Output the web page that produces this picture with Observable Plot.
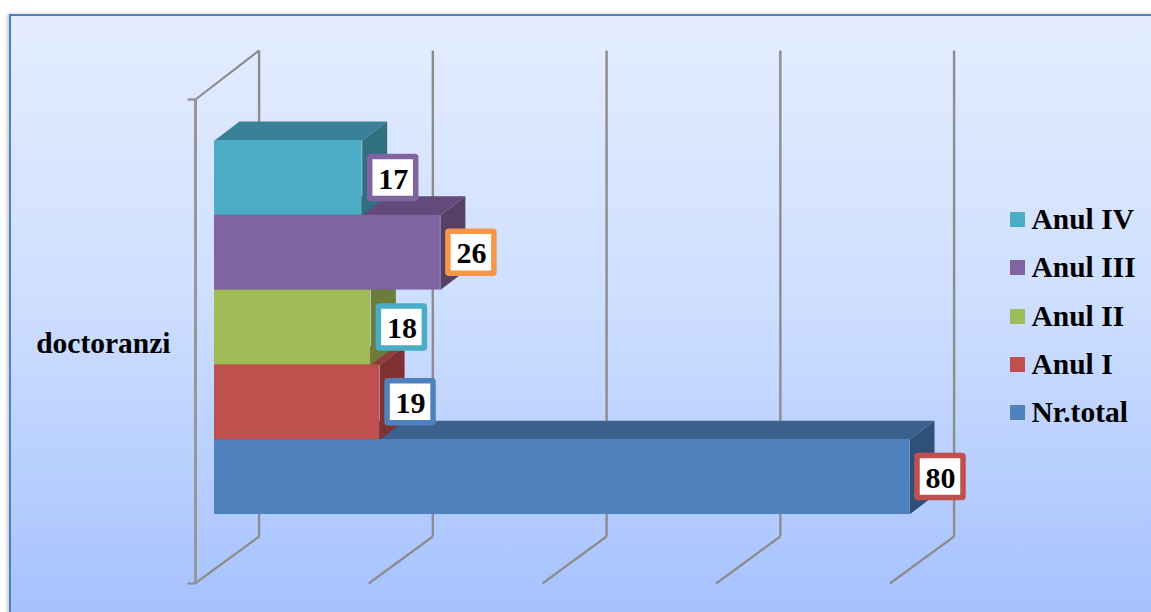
<!DOCTYPE html>
<html>
<head>
<meta charset="utf-8">
<script src="https://cdn.jsdelivr.net/npm/d3@7"></script>
<script src="https://cdn.jsdelivr.net/npm/@observablehq/plot@0.6"></script>
<style>
  html, body { margin: 0; padding: 0; background: #fff; overflow: hidden; width: 1151px; height: 612px; }
  #frame { position: absolute; left: 9px; top: 14px; width: 1160px; height: 620px; box-sizing: border-box;
    border: 2px solid #4f81bd; box-shadow: -2px 0 3px rgba(0,0,0,.2);
    background: linear-gradient(180deg, #e4edff 0%, #cfdfff 45%, #a3c0fe 100%); }
  #chart { position: absolute; left: 0; top: 0; }
  #legend { position: absolute; left: 1010px; top: 195.5px; font: bold 29.5px "Liberation Serif", serif; color: #000; }
  #legend div { display: flex; align-items: center; height: 48.25px; white-space: nowrap; }
  #legend i { display: block; width: 15px; height: 15px; margin-right: 6.5px; }
</style>
</head>
<body>
<div id="frame"></div>
<div id="chart"></div>
<div id="legend"></div>
<script>
// Data, top bar first (legend order)
const seriesNames = ["Anul IV", "Anul III", "Anul II", "Anul I", "Nr.total"];
const seriesValues = [17, 26, 18, 19, 80];
const slots = [4, 3, 2, 1, 0];
const frontColors = ["#4aacc5", "#8064a2", "#9fbc59", "#c0504d", "#4f81bd"];
const topColors = ["#398197", "#644a7a", "#7c9344", "#913c39", "#3c618e"];
const sideColors = ["#31707f", "#574068", "#6b7c3b", "#803232", "#2f5078"];
const labelBorders = ["#8064a2", "#f79646", "#4bacc6", "#4f81bd", "#c0504d"];
const categoryName = ["doctoranzi"];
const gridValues = [0, 20, 40, 60, 80];

// Scale extents and the fake-3D offsets, in data units
const xUnit = 695 / 80, yUnit = 74.8;
const barDepthX = 25 / xUnit, barDepthY = 19 / yUnit;
const wallFrontX = -19 / xUnit, wallBackX = 44.6 / xUnit, floorFrontX = -19.6 / xUnit;
const wallFrontTop = 415 / yUnit, wallFrontBottom = -69 / yUnit;
const wallBackTop = 464 / yUnit, wallBackBottom = -22 / yUnit;
const labelOffset = 31 / xUnit, labelHalfW = 23 / xUnit, labelHalfH = 21 / yUnit;
const tickLen = 8 / xUnit;

const bars = seriesNames.map((name, i) => ({name, value: seriesValues[i], slot: slots[i], i}));

const gridColor = "#8c8c8c";
const marks = [];

// Back-wall gridlines and their floor lines
marks.push(Plot.link(gridValues, {
  x1: d => d + wallBackX, x2: d => d + wallBackX,
  y1: wallBackBottom, y2: wallBackTop, stroke: gridColor, strokeWidth: 2.4
}));
marks.push(Plot.link(gridValues, {
  x1: d => d + wallBackX, x2: d => d + floorFrontX,
  y1: wallBackBottom, y2: wallFrontBottom, stroke: gridColor, strokeWidth: 2.2
}));
// Left wall
marks.push(Plot.link([0], {
  x1: wallFrontX, x2: wallFrontX, y1: wallFrontBottom, y2: wallFrontTop, stroke: "#979797", strokeWidth: 3
}));
marks.push(Plot.link([0], {
  x1: wallFrontX, x2: wallBackX, y1: wallFrontTop, y2: wallBackTop, stroke: gridColor, strokeWidth: 2.2
}));
marks.push(Plot.link([wallFrontTop, wallFrontBottom], {
  x1: wallFrontX - tickLen, x2: wallFrontX, y1: d => d, y2: d => d, stroke: gridColor, strokeWidth: 2.2
}));

// Bars, drawn from the lowest up so each front face hides the top face below it
for (const b of [...bars].reverse()) {
  const y0 = b.slot, y1 = b.slot + 1;
  const topFace = [[0, y1], [b.value, y1], [b.value + barDepthX, y1 + barDepthY], [barDepthX, y1 + barDepthY]];
  const sideFace = [[b.value, y0], [b.value, y1], [b.value + barDepthX, y1 + barDepthY], [b.value + barDepthX, y0 + barDepthY]];
  marks.push(Plot.line(topFace, {x: d => d[0], y: d => d[1], fill: topColors[b.i], stroke: null}));
  marks.push(Plot.line(sideFace, {x: d => d[0], y: d => d[1], fill: sideColors[b.i], stroke: null}));
  marks.push(Plot.rect([b], {x1: 0, x2: d => d.value, y1: y0, y2: y1, fill: frontColors[b.i]}));
}

// Value labels
for (const b of bars) {
  marks.push(Plot.rect([b], {
    x1: d => d.value + labelOffset - labelHalfW,
    x2: d => d.value + labelOffset + labelHalfW,
    y1: d => d.slot + 0.5 - labelHalfH,
    y2: d => d.slot + 0.5 + labelHalfH,
    fill: "#fff", stroke: labelBorders[b.i], strokeWidth: 5.5, rx: 1
  }));
}
marks.push(Plot.text(bars, {
  x: d => d.value + labelOffset, y: d => d.slot + 0.5, text: d => String(d.value),
  fontSize: 30, fontWeight: "bold", fill: "#000", dy: 1
}));

// Category label
marks.push(Plot.text(categoryName, {
  x: wallFrontX, y: (wallFrontTop + wallFrontBottom) / 2, text: d => d,
  textAnchor: "end", dx: -25, dy: 2, fontSize: 29.5, fontWeight: "bold", fill: "#000"
}));

const plot = Plot.plot({
  width: 1151, height: 612,
  marginLeft: 0, marginRight: 0, marginTop: 0, marginBottom: 0,
  x: {domain: [0, 80], range: [214, 909], axis: null},
  y: {domain: [0, 5], range: [514, 140], axis: null},
  style: {background: "transparent", fontFamily: '"Liberation Serif", serif', overflow: "visible"},
  marks
});
document.getElementById("chart").append(plot);

// Legend
const legend = document.getElementById("legend");
for (const b of bars) {
  const row = document.createElement("div");
  const sw = document.createElement("i");
  sw.style.background = frontColors[b.i];
  row.append(sw, document.createTextNode(b.name));
  legend.append(row);
}
</script>
</body>
</html>
